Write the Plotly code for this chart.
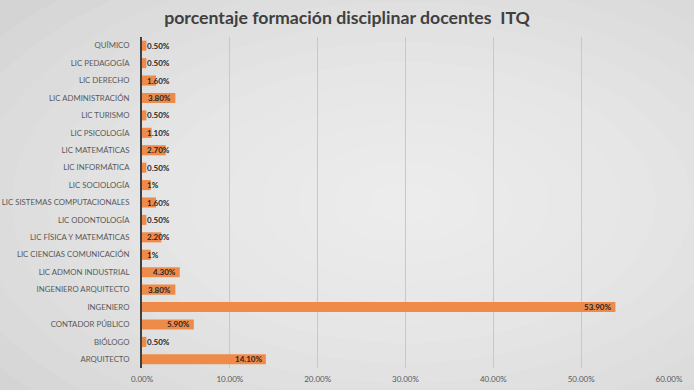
import plotly.graph_objects as go

categories = ["ARQUITECTO", "BIÓLOGO", "CONTADOR PÚBLICO", "INGENIERO", "INGENIERO ARQUITECTO",
              "LIC ADMON INDUSTRIAL", "LIC CIENCIAS COMUNICACIÓN", "LIC FÍSICA Y MATEMÁTICAS",
              "LIC ODONTOLOGÍA", "LIC SISTEMAS COMPUTACIONALES", "LIC SOCIOLOGÍA", "LIC INFORMÁTICA",
              "LIC MATEMÁTICAS", "LIC PSICOLOGÍA", "LIC TURISMO", "LIC ADMINISTRACIÓN",
              "LIC DERECHO", "LIC PEDAGOGÍA", "QUÍMICO"]
values = [14.1, 0.5, 5.9, 53.9, 3.8, 4.3, 1.0, 2.2, 0.5, 1.6, 1.0, 0.5, 2.7, 1.1, 0.5, 3.8, 1.6, 0.5, 0.5]
value_labels = ["14.10%", "0.50%", "5.90%", "53.90%", "3.80%", "4.30%", "1%", "2.20%", "0.50%",
                "1.60%", "1%", "0.50%", "2.70%", "1.10%", "0.50%", "3.80%", "1.60%", "0.50%", "0.50%"]
tick_vals = [0, 10, 20, 30, 40, 50, 60]
tick_text = ["0.00%", "10.00%", "20.00%", "30.00%", "40.00%", "50.00%", "60.00%"]

FONT = "Lato"
BAR = "#EE8B4A"

fig = go.Figure()
fig.add_trace(go.Bar(
    y=categories, x=values, orientation="h",
    marker=dict(color=BAR, line=dict(width=0)),
    hoverinfo="skip",
))

annotations = []
for c, v, t in zip(categories, values, value_labels):
    if v >= 3.8:
        annotations.append(dict(x=v, y=c, xref="x", yref="y", text="<b>%s</b>" % t,
                                showarrow=False, xanchor="right", xshift=-2,
                                font=dict(family=FONT, size=8, color="#262626")))
    else:
        annotations.append(dict(x=0, y=c, xref="x", yref="y", text="<b>%s</b>" % t,
                                showarrow=False, xanchor="left", xshift=3,
                                font=dict(family=FONT, size=8, color="#262626")))

# radial-ish background gradient
shapes = []
n = 14
for i in range(n):
    f = 1 - i / n
    shapes.append(dict(type="circle", xref="paper", yref="paper", layer="below",
                       x0=0.5 - 0.95 * f, x1=0.5 + 0.95 * f,
                       y0=0.5 - 0.85 * f, y1=0.5 + 0.85 * f,
                       fillcolor="white", opacity=0.075, line=dict(width=0)))

fig.update_layout(
    width=694, height=390,
    margin=dict(l=142, r=25, t=37, b=22, autoexpand=False),
    paper_bgcolor="#d4d4d4",
    plot_bgcolor="rgba(0,0,0,0)",
    title=dict(text="<b>porcentaje formación disciplinar docentes  ITQ</b>",
               x=0.5, xref="container", xanchor="center",
               y=0.955, yref="container", yanchor="middle", automargin=False,
               font=dict(family=FONT, size=17.7, color="#404040")),
    bargap=0.42,
    showlegend=False,
    shapes=shapes,
    annotations=annotations,
    xaxis=dict(range=[0, 60], tickvals=tick_vals, ticktext=tick_text, automargin=False,
               showgrid=True, gridcolor="#c8c8c8", gridwidth=1, zeroline=False,
               showline=False, ticks="", fixedrange=True, ticklabelstandoff=5,
               tickfont=dict(family=FONT, size=8, color="#595959")),
    yaxis=dict(categoryorder="array", categoryarray=categories, automargin=False,
               showgrid=False, showline=True, linecolor="#404040", linewidth=2,
               ticks="", ticklabelstandoff=9, fixedrange=True,
               tickfont=dict(family=FONT, size=7.8, color="#595959")),
)

fig.write_html("out.html", config={"displayModeBar": False},
               post_script="document.body.style.margin='0';document.body.style.overflow='hidden';")
